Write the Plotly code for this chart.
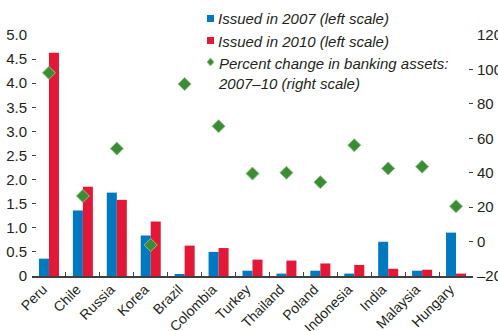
import plotly.graph_objects as go

countries = ["Peru", "Chile", "Russia", "Korea", "Brazil", "Colombia", "Turkey",
             "Thailand", "Poland", "Indonesia", "India", "Malaysia", "Hungary"]
issued_2007 = [0.36, 1.36, 1.73, 0.84, 0.03, 0.50, 0.11, 0.05, 0.11, 0.05, 0.71, 0.11, 0.90]
issued_2010 = [4.63, 1.85, 1.58, 1.13, 0.63, 0.58, 0.34, 0.32, 0.26, 0.23, 0.15, 0.13, 0.05]
pct_change = [98, 26.5, 54, -2, 91.5, 67, 39.5, 40, 34.5, 56, 42.5, 43.5, 20.5]

left_ticks = [0, 0.5, 1.0, 1.5, 2.0, 2.5, 3.0, 3.5, 4.0, 4.5, 5.0]
left_labels = ["0", "0.5", "1.0", "1.5", "2.0", "2.5", "3.0", "3.5", "4.0", "4.5", "5.0"]
right_ticks = [-20, 0, 20, 40, 60, 80, 100, 120]
right_labels = ["\u201320", "0", "20", "40", "60", "80", "100", "120"]

legend_labels = ["Issued in 2007 (left scale)", "Issued in 2010 (left scale)",
                 "Percent change in banking assets:<br>2007\u201310 (right scale)"]

BLUE = "#0079C1"
RED = "#E31837"
GREEN = "#3C8C35"
GREEN_EDGE = "#8CC084"
TXT = "#231F20"
FONT = "Liberation Sans Narrow, Arial Narrow, sans-serif"

W, H = 498, 331
ML, MR, MT, MB = 32, 25, 35, 55
PW, PH = W - ML - MR, H - MT - MB

def px(x):
    return (x - ML) / PW

def py(y):
    return (H - MB - y) / PH

fig = go.Figure()
fig.add_trace(go.Bar(x=countries, y=issued_2007, marker_color=BLUE, marker_line_width=0,
                     name=legend_labels[0], showlegend=False))
fig.add_trace(go.Bar(x=countries, y=issued_2010, marker_color=RED, marker_line_width=0,
                     name=legend_labels[1], showlegend=False))
fig.add_trace(go.Scatter(x=countries, y=pct_change, yaxis="y2", mode="markers",
                         name=legend_labels[2],
                         marker=dict(symbol="diamond", size=10, color=GREEN,
                                     line=dict(color=GREEN_EDGE, width=1)),
                         showlegend=False))

# manual legend (text as annotations, swatches as shapes)
text_x = 216
rows_y = [18, 40, 62]
for i, (lab, yc) in enumerate(zip(legend_labels, rows_y)):
    fig.add_annotation(xref="paper", yref="paper", x=px(text_x), y=py(yc - 9.5),
                       xanchor="left", yanchor="top", align="left", showarrow=False,
                       text=lab, font=dict(family=FONT, size=15, style="italic", color=TXT))
fig.add_shape(type="rect", xref="paper", yref="paper", x0=px(207), x1=px(214),
              y0=py(22), y1=py(15), fillcolor=BLUE, line_width=0)
fig.add_shape(type="rect", xref="paper", yref="paper", x0=px(207), x1=px(214),
              y0=py(44), y1=py(37), fillcolor=RED, line_width=0)
fig.add_shape(type="path", xref="paper", yref="paper",
              path="M {a},{b} L {c},{d} L {a},{e} L {f},{d} Z".format(
                  a=px(210.5), b=py(58), c=px(214), d=py(62), e=py(66), f=px(207)),
              fillcolor=GREEN, line=dict(color=GREEN_EDGE, width=1))

fig.update_layout(
    width=W, height=H,
    margin=dict(l=ML, r=MR, t=MT, b=MB, autoexpand=False),
    paper_bgcolor="white", plot_bgcolor="white",
    font=dict(family=FONT, size=15, color=TXT),
    barmode="group", bargap=0.41, bargroupgap=0,
    showlegend=False,
    xaxis=dict(showline=True, linecolor="#404040", linewidth=1.5,
               ticks="inside", ticklen=4, tickcolor="#404040", tickwidth=1.2,
               tickson="boundaries", tickangle=-45, showgrid=False,
               tickfont=dict(size=14), range=[-0.5, 12.5],
               ticklabelshift=-6, ticklabelstandoff=-2),
    yaxis=dict(range=[0, 5.0], tickvals=left_ticks, ticktext=left_labels,
               ticks="inside", ticklen=4, tickcolor="#404040", showgrid=False,
               zeroline=False, showline=False, tickfont=dict(size=15),
               ticklabelstandoff=4),
    yaxis2=dict(range=[-20, 120], tickvals=right_ticks, ticktext=right_labels,
                overlaying="y", side="right", ticks="inside", ticklen=4,
                tickcolor="#404040", showgrid=False, zeroline=False, showline=False,
                tickfont=dict(size=15), ticklabelstandoff=3),
)

fig.write_html("out.html", config={"displayModeBar": False},
               post_script="document.body.style.margin='0';document.body.style.overflow='hidden';")
